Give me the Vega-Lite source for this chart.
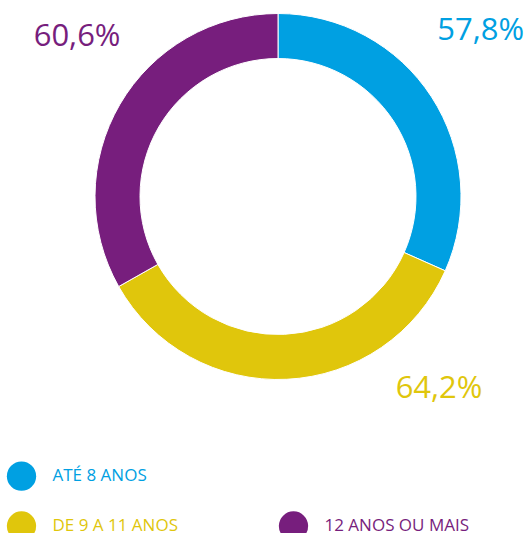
{
  "$schema": "https://vega.github.io/schema/vega-lite/v6.json",
  "autosize": {"type": "none"},
  "width": 494,
  "height": 393,
  "padding": {"left": 31, "right": 0, "top": 0, "bottom": 140},
  "background": "white",
  "config": {"view": {"stroke": null}, "font": "Open Sans"},
  "data": {
    "values": [
      {"grupo": "ATÉ 8 ANOS", "valor": 57.8, "rotulo": "57,8%", "ordem": 1},
      {"grupo": "DE 9 A 11 ANOS", "valor": 64.2, "rotulo": "64,2%", "ordem": 2},
      {"grupo": "12 ANOS OU MAIS", "valor": 60.6, "rotulo": "60,6%", "ordem": 3}
    ]
  },
  "encoding": {
    "theta": {"field": "valor", "type": "quantitative", "stack": true},
    "order": {"field": "ordem", "type": "quantitative"},
    "color": {
      "field": "grupo",
      "type": "nominal",
      "scale": {
        "domain": ["ATÉ 8 ANOS", "DE 9 A 11 ANOS", " ", "12 ANOS OU MAIS"],
        "range": ["#00A0E2", "#E0C60C", "#ffffff", "#771E7D"]
      },
      "legend": {
        "title": null,
        "orient": "none",
        "legendX": -24.5,
        "legendY": 461,
        "padding": 0,
        "values": ["ATÉ 8 ANOS", "DE 9 A 11 ANOS", " ", "12 ANOS OU MAIS"],
        "columns": 2,
        "gridAlign": "each",
        "columnPadding": 100,
        "rowPadding": 20,
        "symbolType": "circle",
        "symbolSize": 858,
        "symbolStrokeWidth": 0,
        "symbolOpacity": 1,
        "labelFont": "Open Sans",
        "labelFontSize": 17,
        "labelOffset": 16,
        "labelLimit": 300,
        "labelColor": {"expr": "scale('color', datum.value)"}
      }
    }
  },
  "layer": [
    {
      "mark": {"type": "arc", "outerRadius": 183, "innerRadius": 138, "stroke": "white", "strokeWidth": 1}
    },
    {
      "mark": {
        "type": "text",
        "radius": 250,
        "font": "Open Sans",
        "fontSize": 31,
        "align": "center",
        "baseline": "alphabetic",
        "dx": {"expr": "datum.ordem == 1 ? -7 : datum.ordem == 2 ? 149 : 15"},
        "dy": {"expr": "datum.ordem == 1 ? -20 : datum.ordem == 2 ? -48 : -25"}
      },
      "encoding": {
        "text": {"field": "rotulo", "type": "nominal"}
      }
    }
  ]
}
